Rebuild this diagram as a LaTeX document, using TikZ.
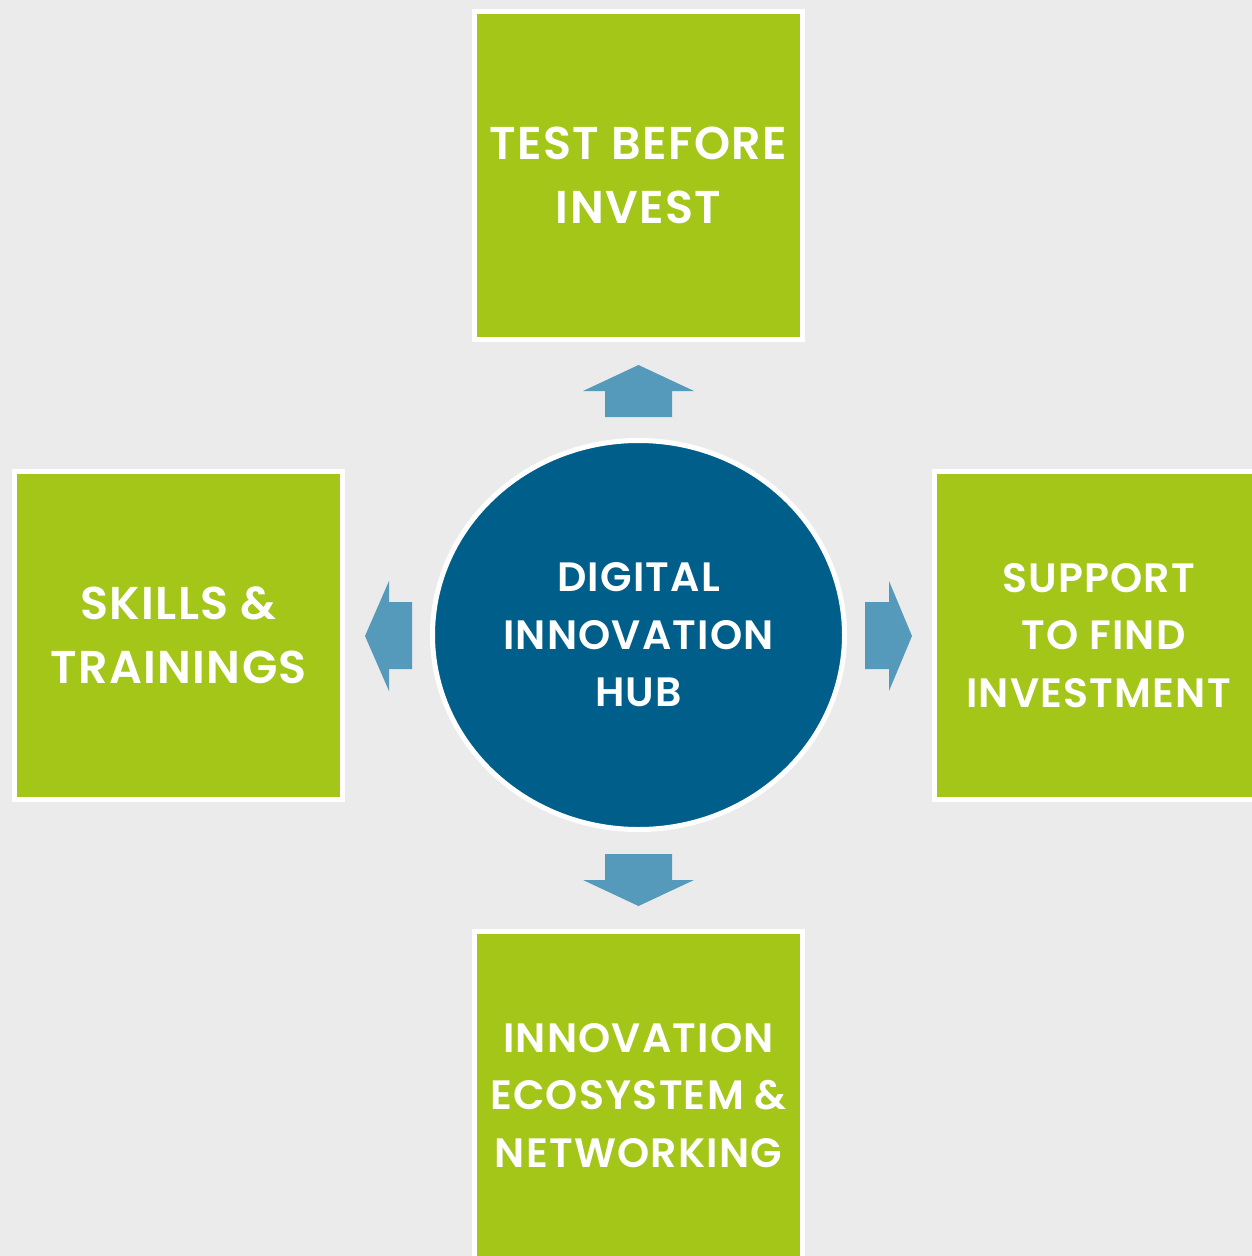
\documentclass[tikz,border=0pt]{standalone}
\usepackage{fontspec}
\setmainfont{Poppins}
\newfontfamily\popsb{Poppins SemiBold}[LetterSpace=3]
\usetikzlibrary{shapes.geometric}
\definecolor{bg}{HTML}{EBEBEB}
\definecolor{leaf}{HTML}{A3C619}
\definecolor{hub}{HTML}{005F8A}
\definecolor{arr}{HTML}{5599BB}
\begin{document}
\begin{tikzpicture}[x=1pt,y=-1pt,
  box/.style={draw=white,line width=5pt,fill=leaf,minimum width=328pt,minimum height=328pt,
    inner sep=0pt,align=center,text=white,font=\popsb\fontsize{46}{64}\selectfont},
  smalltext/.style={font=\popsb\fontsize{41}{57.5}\selectfont},
  hubnode/.style={ellipse,draw=white,line width=5pt,fill=hub,minimum width=412pt,minimum height=389pt,
    inner sep=0pt,align=center,text=white,font=\popsb\fontsize{41}{57.5}\selectfont},
  arrowshape/.style={fill=arr,draw=none}]
\useasboundingbox (0,0) rectangle (1252,1256);
\clip (0,0) rectangle (1252,1256);
\fill[bg] (0,0) rectangle (1252,1256);
\node[box] (top) at (638.5,175.5) {TEST BEFORE\\INVEST};
\node[box] (left) at (178.5,635.5) {SKILLS \&\\TRAININGS};
\node[box,smalltext] (right) at (1098.5,635.5) {SUPPORT\\\hspace*{10pt}TO FIND\\INVESTMENT};
\node[box,smalltext] (bottom) at (638.5,1095.5) {INNOVATION\\ECOSYSTEM \&\\NETWORKING};
\node[hubnode] (hub) at (638.5,635) {DIGITAL\\INNOVATION\\HUB};
% up arrow
\coordinate (ut) at (638.5,365);
\fill[arrowshape] (ut) -- (694,391) -- (672,391) -- (672,417) -- (605,417) -- (605,391) -- (583,391) -- cycle;
% down arrow
\coordinate (dt) at (638.5,906);
\fill[arrowshape] (dt) -- (694,880) -- (672,880) -- (672,854) -- (605,854) -- (605,880) -- (583,880) -- cycle;
% left arrow
\coordinate (lt) at (365,636);
\fill[arrowshape] (lt) -- (389,581) -- (389,602) -- (412,602) -- (412,669) -- (389,669) -- (389,691) -- cycle;
% right arrow
\coordinate (rt) at (912,636);
\fill[arrowshape] (rt) -- (889,581) -- (889,602) -- (865,602) -- (865,669) -- (889,669) -- (889,691) -- cycle;
\end{tikzpicture}
\end{document}
